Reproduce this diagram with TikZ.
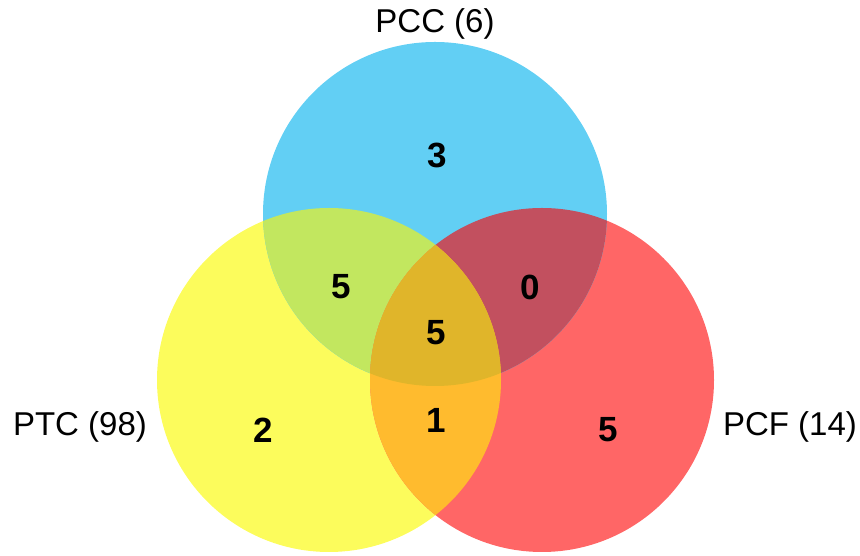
\documentclass[tikz,border=0pt]{standalone}
\usepackage{fontspec}
\setmainfont{Liberation Sans}
\definecolor{cblue}{HTML}{62CFF4}
\definecolor{cyellow}{HTML}{FCFC5C}
\definecolor{cred}{HTML}{FF6666}
\definecolor{cby}{HTML}{C2E75F}
\definecolor{cbr}{HTML}{C2505F}
\definecolor{cyr}{HTML}{FFBB2E}
\definecolor{call}{HTML}{E0B52A}
\begin{document}
\begin{tikzpicture}[x=1pt,y=1pt,
  lab/.style={font=\fontsize{33}{38}\selectfont, inner sep=0pt},
  num/.style={font=\fontsize{35}{40}\selectfont\bfseries, inner sep=0pt}]
\useasboundingbox (0,0) rectangle (860,556);
\def\rr{172}
\coordinate (B) at (435,342);
\coordinate (Y) at (329,176);
\coordinate (R) at (542,176);
\fill[cyellow] (Y) circle (\rr);
\fill[cred] (R) circle (\rr);
\fill[cblue] (B) circle (\rr);
\begin{scope}
  \clip (B) circle (\rr);
  \fill[cby] (Y) circle (\rr);
  \fill[cbr] (R) circle (\rr);
\end{scope}
\begin{scope}
  \clip (Y) circle (\rr);
  \fill[cyr] (R) circle (\rr);
  \clip (R) circle (\rr);
  \fill[call] (B) circle (\rr);
\end{scope}
\node[lab] (pcc) at (435,532) {PCC (6)};
\node[lab] (ptc) at (80,129) {PTC (98)};
\node[lab] (pcf) at (790,129) {PCF (14)};
\node[num] (n3) at (437,401) {3};
\node[num] (n5a) at (341,269) {5};
\node[num] (n0) at (530,269) {0};
\node[num] (n5b) at (436,223) {5};
\node[num] (n2) at (263,126) {2};
\node[num] (n1) at (436,136) {1};
\node[num] (n5c) at (608,126) {5};
\end{tikzpicture}
\end{document}
